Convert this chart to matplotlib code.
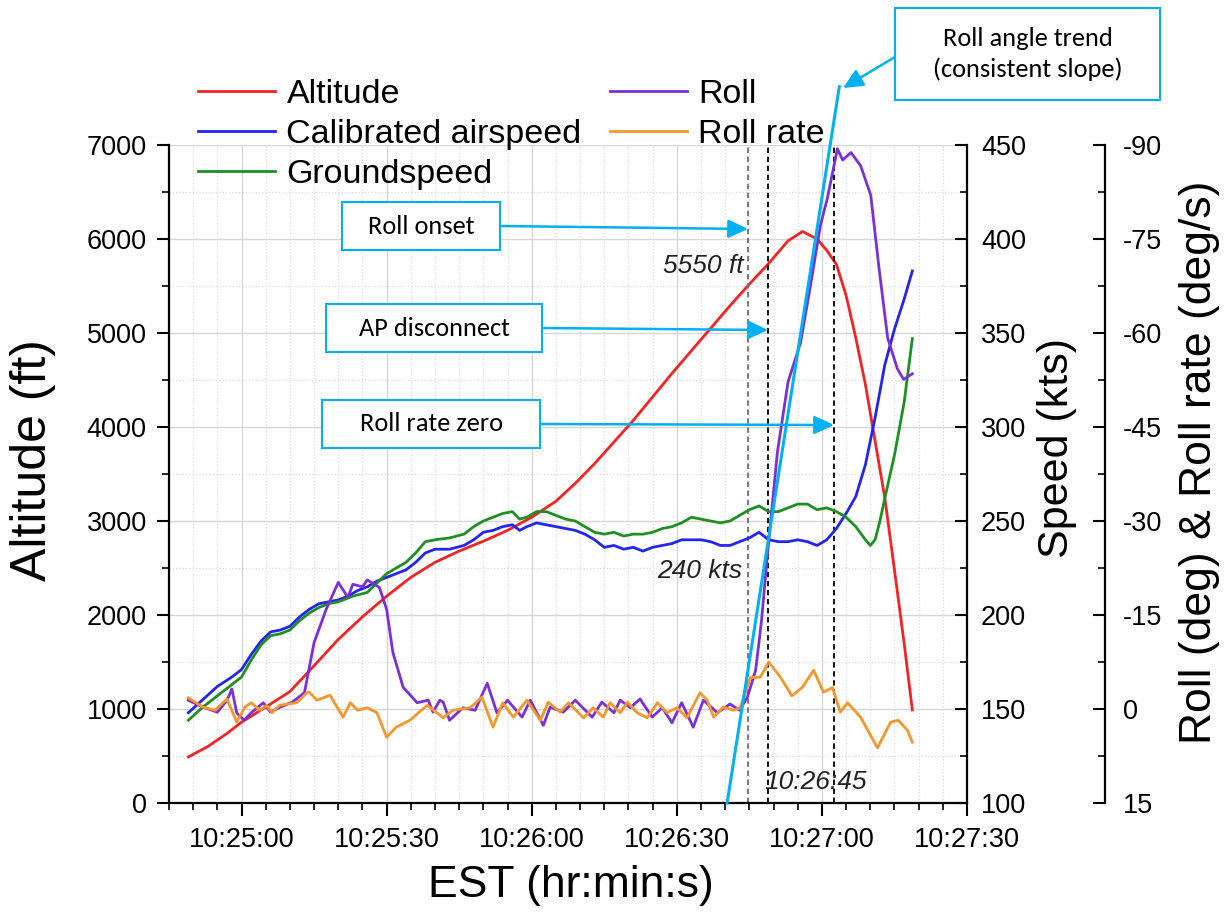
import matplotlib
matplotlib.use('Agg')
import matplotlib.pyplot as plt
from matplotlib import font_manager
from matplotlib.patches import Rectangle, FancyArrowPatch
from matplotlib.ticker import MultipleLocator, FixedLocator, FuncFormatter

# time axis: seconds after 10:24:45
alt_t = [4, 8, 12, 15, 20, 25, 30, 35, 40, 45, 50, 55, 60, 65, 70, 75, 80, 84, 88, 92,
         96, 100, 104, 108, 112, 116, 120, 124, 128, 131, 134, 136, 138, 140, 142, 144,
         146, 148, 150, 152, 153.7]
alt_ft = [490, 600, 740, 860, 1020, 1185, 1460, 1740, 1980, 2200, 2400, 2560, 2680, 2785,
          2900, 3040, 3210, 3400, 3610, 3840, 4070, 4320, 4570, 4810, 5050, 5290, 5520,
          5740, 5980, 6080, 6000, 5880, 5730, 5400, 4950, 4450, 3850, 3250, 2480, 1700, 990]

cas_t = [4, 7, 10, 13, 15, 17, 19, 21, 23, 25, 27, 29, 31, 33, 35, 37, 39, 41, 43, 45, 47,
         49, 51, 53, 55, 58, 61, 63, 65, 67, 69, 71, 72.5, 74, 76, 78, 80, 82, 84, 86, 88,
         90, 92, 94, 96, 98, 100, 102, 104, 106, 108, 110, 112, 114, 116, 118, 120, 122,
         124, 126, 128, 130, 132, 134, 136, 138, 140, 142, 144, 146, 148, 150, 152, 153.7]
cas_kts = [148, 155, 162, 167, 171, 179, 186, 191, 192, 194, 199, 203, 206, 207, 208, 210,
           213, 215, 218, 220, 222, 224, 228, 233, 235, 235, 237, 240, 244, 245, 247, 248,
           245, 247, 249, 248, 247, 246, 245, 243, 240, 236, 237, 235, 236, 234, 236, 237,
           238, 240, 240, 240, 239, 237, 237, 239, 241, 244, 240, 239, 239, 240, 239, 237,
           240, 246, 254, 263, 280, 305, 333, 352, 368, 383]

gs_t = [4, 7, 10, 13, 15, 17, 19, 21, 23, 25, 27, 29, 31, 33, 35, 38, 41, 43, 45, 47, 49,
        51, 53, 55, 58, 61, 63, 65, 67, 69, 71, 72.5, 74, 76, 78, 80, 82, 84, 86, 88, 90,
        92, 94, 96, 98, 100, 102, 104, 106, 108, 110, 112, 114, 116, 118, 120, 122, 124,
        126, 128, 130, 132, 134, 136, 138, 140, 142, 144, 145, 146, 147, 148, 150, 152, 153.7]
gs_kts = [144, 151, 157, 163, 167, 176, 184, 189, 190, 192, 197, 201, 204, 206, 207, 210,
          212, 217, 222, 225, 228, 233, 239, 240, 241, 243, 247, 250, 252, 254, 255, 251,
          252, 255, 255, 253, 251, 250, 247, 244, 243, 244, 242, 243, 243, 244, 246, 247,
          249, 252, 251, 250, 249, 250, 253, 256, 258, 255, 255, 257, 259, 259, 256, 257,
          255, 252, 247, 240, 237, 240, 250, 262, 285, 313, 347]

roll_t = [4, 7, 10, 12, 13, 14, 15.5, 17, 19.5, 21, 23, 25.5, 28, 30, 32.5, 35, 37, 38, 40,
          41, 43.5, 45, 46.3, 48.4, 51.3, 53.6, 54.6, 56, 56.7, 58, 60.8, 63.3, 65.8, 67.8,
          70, 73, 74.7, 77.4, 78.8, 81.5, 84, 87.5, 89.5, 92, 93.3, 95.4, 97.4, 99.9, 102,
          104, 106, 108.4, 110.5, 113.4, 116, 118, 119.6, 121.3, 122.5, 123.7, 125.8, 128,
          130.6, 132.6, 134.7, 136.1, 138.2, 139.3, 141, 143, 145.1, 146.8, 148.6, 150.6,
          151.9, 153.7]
roll_deg = [-1.4, -0.3, 0.5, -1.4, -3.2, 0.6, 1.8, 0.6, -1.0, 0.5, -0.3, -1.1, -2.6, -10.6,
            -15.9, -20.2, -17.8, -19.9, -19.5, -20.6, -19.4, -15.9, -9.0, -3.5, -1.0, -1.4,
            0.5, -1.4, -1.1, 1.8, -0.2, 0.2, -4.1, 0.6, -1.4, 1.3, -1.4, 2.6, -0.3, 0.5,
            -1.4, 1.3, -1.1, 0.6, -1.4, -0.2, -1.6, 1.3, -0.2, 2.2, -1.0, 2.9, -1.4, 0.6,
            -0.8, 0.2, -1.9, -6.2, -14.0, -24.3, -41.0, -52.2, -58.5, -67.4, -77.2, -81.4,
            -89.4, -87.6, -88.8, -86.7, -82.0, -70.4, -59.2, -54.3, -52.6, -53.5]

rate_t = [4, 7, 9.5, 12, 14, 15.7, 17, 18.8, 20.2, 21.3, 22.9, 26.4, 28.5, 29, 30.6, 33.3,
          36, 37.5, 39, 41, 43, 45, 47, 49.8, 53.4, 55.4, 56.7, 58.7, 62.3, 64.7, 67, 69,
          71.2, 74, 76.8, 78.4, 80.9, 82.6, 85.7, 87.7, 89.8, 91.2, 93.3, 94.8, 96.8, 98.9,
          101, 103, 105, 107.1, 109.8, 111.3, 112.6, 114.6, 116.7, 118.1, 120.2, 122.3, 124,
          126.5, 128.8, 131, 133.3, 135.3, 137.2, 138.2, 138.8, 140.3, 143, 146.5, 149.2,
          150.8, 152.7, 153.7]
rate_dps = [-1.8, -0.3, 0.2, -1.6, 2.1, -0.3, -1.0, 0.2, -0.6, 0.6, -0.6, -1.0, -2.6, -2.7,
            -1.4, -2.2, 1.3, -1.0, 0.2, -0.2, 0.6, 4.5, 2.9, 1.8, -0.6, 0.6, 1.4, 0.2, -0.2,
            -1.9, 2.9, -1.0, 1.3, -1.4, 1.8, -1.1, 0.5, -1.0, 1.4, -0.2, 1.3, -1.0, 0.6,
            -1.1, 0.6, 1.4, -1.0, 0.6, -0.2, 1.4, -2.6, -1.4, 1.3, -0.3, 0.2, -0.2, -5.0,
            -5.1, -7.5, -5.0, -2.1, -3.5, -6.2, -2.7, -3.4, -1.0, 0.5, -1.0, 1.3, 6.2, 2.1,
            1.8, 3.4, 5.3]

# roll angle trend line (roll axis units)
trend_t = [115.4, 138.6]
trend_roll = [15, -99.3]

# event times
onset_t = 119.8
ap_t = 123.9
zero_t = 137.6

names = {f.name for f in font_manager.fontManager.ttflist}
boxfont = 'Carlito' if 'Carlito' in names else 'Lato'

plt.rcParams['font.family'] = ['Liberation Sans', 'DejaVu Sans']
plt.rcParams['axes.unicode_minus'] = False

W, H = 1228, 915
def fx(px):
    return px / W
def fy(py):
    return 1 - py / H

cyan = '#00b0f0'
lw = 2.0

fig = plt.figure(figsize=(12.28, 9.15), dpi=100)
ax = fig.add_axes([fx(169), fy(803), (967 - 169) / W, (803 - 145) / H])
ax2 = ax.twinx()
ax3 = ax.twinx()

h_alt, = ax.plot(alt_t, alt_ft, color='#f02424', lw=lw)
h_cas, = ax2.plot(cas_t, cas_kts, color='#2424f0', lw=lw)
h_gs, = ax2.plot(gs_t, gs_kts, color='#1f8f24', lw=lw)
h_roll, = ax3.plot(roll_t, roll_deg, color='#7a2fd8', lw=lw)
h_rate, = ax3.plot(rate_t, rate_dps, color='#f5962c', lw=lw)

ax.set_xlim(0, 165)
ax.set_ylim(0, 7000)
ax2.set_ylim(100, 450)
ax3.set_ylim(15, -90)

def hms(v, pos):
    s = int(round(v)) + 10 * 3600 + 24 * 60 + 45
    h, rem = divmod(s, 3600)
    m, sec = divmod(rem, 60)
    return f'{h}:{m:02d}:{sec:02d}'

ax.xaxis.set_major_locator(FixedLocator(range(15, 166, 30)))
ax.xaxis.set_minor_locator(MultipleLocator(5))
ax.xaxis.set_major_formatter(FuncFormatter(hms))
ax.yaxis.set_major_locator(MultipleLocator(1000))
ax.yaxis.set_minor_locator(MultipleLocator(500))
ax2.yaxis.set_major_locator(MultipleLocator(50))
ax2.yaxis.set_minor_locator(MultipleLocator(25))
ax3.yaxis.set_major_locator(MultipleLocator(15))
ax3.yaxis.set_minor_locator(MultipleLocator(7.5))

ax.grid(which='major', color='#d6d6d6', lw=1.0)
ax.grid(which='minor', color='#dadada', lw=0.9, ls=':')
ax.set_axisbelow(True)

for a in (ax, ax2, ax3):
    for s in a.spines.values():
        s.set_visible(False)
        s.set_linewidth(1.6)
ax.spines['left'].set_visible(True)
ax.spines['bottom'].set_visible(True)
ax2.spines['right'].set_visible(True)
ax3.spines['right'].set_visible(True)
ax3.spines['right'].set_position(('axes', (1105 - 169) / 798))

ax.tick_params(axis='y', which='major', direction='out', length=9, width=1.5, pad=7, labelsize=19.5)
ax.tick_params(axis='y', which='minor', direction='out', length=5, width=1.2)
ax.tick_params(axis='x', which='major', direction='out', length=9, width=1.5, pad=8, labelsize=19.5)
ax.tick_params(axis='x', which='minor', direction='out', length=5, width=1.2)
for a in (ax2, ax3):
    a.tick_params(axis='y', which='major', direction='in', length=9, width=1.5, pad=10, labelsize=19.5)
    a.tick_params(axis='y', which='minor', direction='in', length=5, width=1.2)
ax3.tick_params(axis='y', which='major', pad=13)

# axis titles
fig.text(fx(33), fy(460), 'Altitude (ft)', rotation=90, ha='center', va='center', fontsize=36)
fig.text(fx(1057), fy(448), 'Speed (kts)', rotation=90, ha='center', va='center', fontsize=31)
fig.text(fx(1200), fy(462), 'Roll (deg) & Roll rate (deg/s)', rotation=90, ha='center', va='center', fontsize=32)
fig.text(fx(571), fy(886), 'EST (hr:min:s)', ha='center', va='center', fontsize=32)

# event lines and notes
ax.axvline(onset_t, color='#707070', lw=1.3, ls=(0, (3, 2)))
ax.axvline(ap_t, color='black', lw=1.3, ls=(0, (3, 2)))
ax.axvline(zero_t, color='black', lw=1.3, ls=(0, (3, 2)))
ax.text(118.8, 5710, '5550 ft', ha='right', va='center', style='italic', fontsize=19, color='#222222')
ax.text(118.5, 2465, '240 kts', ha='right', va='center', style='italic', fontsize=19, color='#222222')
ax.text(133.7, 224, '10:26:45', ha='center', va='center', style='italic', fontsize=19, color='#222222')

ax3.plot(trend_t, trend_roll, color=cyan, lw=2.2, clip_on=False, zorder=10)

# legends
kw = dict(loc='upper left', frameon=False, fontsize=24.5, handlelength=2.25, handletextpad=0.35,
          labelspacing=0.27, borderpad=0, borderaxespad=0)
fig.legend([h_alt, h_cas, h_gs], ['Altitude', 'Calibrated airspeed', 'Groundspeed'],
           bbox_to_anchor=(fx(198), fy(79)), **kw)
fig.legend([h_roll, h_rate], ['Roll', 'Roll rate'], bbox_to_anchor=(fx(610), fy(79)), **kw)

# callouts
def callout(x0, y0, x1, y1, text):
    fig.add_artist(Rectangle((fx(x0), fy(y1)), (x1 - x0) / W, (y1 - y0) / H, transform=fig.transFigure,
                             facecolor='white', edgecolor=cyan, lw=1.5, zorder=20))
    fig.text(fx((x0 + x1) / 2), fy((y0 + y1) / 2), text, ha='center', va='center', fontsize=19,
             family=boxfont, zorder=21, linespacing=1.35)

def arrow(x0, y0, x1, y1):
    fig.add_artist(FancyArrowPatch((fx(x0), fy(y0)), (fx(x1), fy(y1)), transform=fig.transFigure,
                                   arrowstyle='-|>,head_length=0.6,head_width=0.28', mutation_scale=20,
                                   color=cyan, lw=1.8, shrinkA=0, shrinkB=0, zorder=22))

callout(342, 202, 500, 250, 'Roll onset')
callout(326, 304, 542, 352, 'AP disconnect')
callout(322, 400, 540, 448, 'Roll rate zero')
callout(895, 8, 1160, 100, 'Roll angle trend\n(consistent slope)')
arrow(500, 226, 748, 229)
arrow(542, 328, 768, 330)
arrow(540, 424, 834, 425)
arrow(895, 57, 843, 88)

fig.savefig('out.png', dpi=100)
